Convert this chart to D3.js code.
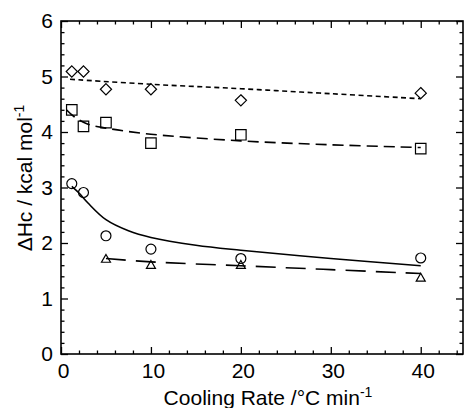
<!DOCTYPE html>
<html>
<head>
<meta charset="utf-8">
<script src="https://cdn.jsdelivr.net/npm/d3@7"></script>
<style>
  body { margin: 0; background: #fff; }
  svg { display: block; font-family: "Liberation Sans", Arial, sans-serif; }
</style>
</head>
<body>
<svg id="chart" width="464" height="408"></svg>
<script>
// measured points (cooling rate in °C/min, ΔHc in kcal/mol)
const rates = [1.2, 2.5, 5, 10, 20, 40];
const diamondVals = [5.09, 5.09, 4.77, 4.77, 4.57, 4.70];
const squareVals = [4.40, 4.10, 4.17, 3.80, 3.95, 3.70];
const circleVals = [3.07, 2.91, 2.13, 1.89, 1.72, 1.73];
const triRates = [5, 10, 20, 40];
const triVals = [1.70, 1.59, 1.59, 1.36];

// fitted curves
const diamondFitX = [1, 10, 20, 30, 40];
const diamondFitY = [4.95, 4.86, 4.78, 4.69, 4.60];
const squareFitX = [0.6, 1.5, 3, 5, 10, 20, 30, 40];
const squareFitY = [4.40, 4.27, 4.14, 4.07, 3.96, 3.84, 3.77, 3.72];
const circleFitX = [1.2, 2, 3, 5, 7.5, 10, 15, 20, 30, 40];
const circleFitY = [3.02, 2.90, 2.72, 2.42, 2.22, 2.10, 1.96, 1.87, 1.72, 1.59];
const triFitX = [5, 10, 20, 30, 40];
const triFitY = [1.72, 1.66, 1.59, 1.52, 1.45];

const xMajor = [0, 10, 20, 30, 40];
const yMajor = [0, 1, 2, 3, 4, 5, 6];

const svg = d3.select("#chart");
const plotLeft = 61, plotRight = 463, plotTop = 21, plotBottom = 354;

const x = d3.scaleLinear().domain([0, 44.7]).range([plotLeft, plotRight]);
const y = d3.scaleLinear().domain([0, 6]).range([plotBottom, plotTop]);

const xMinor = d3.range(0, 45, 2).filter(v => v % 10 !== 0);
const yMinor = d3.range(0, 6.01, 0.2).map(v => +v.toFixed(1)).filter(v => Math.abs(v - Math.round(v)) > 0.01);

function styleAxis(g) {
    g.select(".domain").remove();
    g.selectAll("line").attr("stroke", "#000").attr("stroke-width", 1.3);
    g.selectAll("text").attr("font-size", 21).attr("fill", "#000");
}

// major + minor ticks on all four sides, pointing inward
svg.append("g").attr("transform", `translate(0,${plotBottom})`)
    .call(d3.axisBottom(x).tickValues(xMajor).tickSize(-7).tickPadding(9).tickFormat(d3.format("d")))
    .call(styleAxis)
    .selectAll("text").attr("dx", 2);
svg.append("g").attr("transform", `translate(0,${plotBottom})`)
    .call(d3.axisBottom(x).tickValues(xMinor).tickSize(-3.5).tickFormat(""))
    .call(styleAxis);
svg.append("g").attr("transform", `translate(0,${plotTop})`)
    .call(d3.axisTop(x).tickValues(xMajor).tickSize(-7).tickFormat(""))
    .call(styleAxis);
svg.append("g").attr("transform", `translate(0,${plotTop})`)
    .call(d3.axisTop(x).tickValues(xMinor).tickSize(-3.5).tickFormat(""))
    .call(styleAxis);

svg.append("g").attr("transform", `translate(${plotLeft},0)`)
    .call(d3.axisLeft(y).tickValues(yMajor).tickSize(-7).tickPadding(8).tickFormat(d3.format("d")))
    .call(styleAxis);
svg.append("g").attr("transform", `translate(${plotLeft},0)`)
    .call(d3.axisLeft(y).tickValues(yMinor).tickSize(-3.5).tickFormat(""))
    .call(styleAxis);
svg.append("g").attr("transform", `translate(${plotRight},0)`)
    .call(d3.axisRight(y).tickValues(yMajor).tickSize(-7).tickFormat(""))
    .call(styleAxis);
svg.append("g").attr("transform", `translate(${plotRight},0)`)
    .call(d3.axisRight(y).tickValues(yMinor).tickSize(-3.5).tickFormat(""))
    .call(styleAxis);

// frame
svg.append("rect")
    .attr("x", plotLeft).attr("y", plotTop)
    .attr("width", plotRight - plotLeft).attr("height", plotBottom - plotTop)
    .attr("fill", "none").attr("stroke", "#000").attr("stroke-width", 1.6);

// fit lines
const line = d3.line().x(d => x(d[0])).y(d => y(d[1])).curve(d3.curveCatmullRom.alpha(0.5));
const fits = [
    { xs: diamondFitX, ys: diamondFitY, dash: "5,3.5" },
    { xs: squareFitX, ys: squareFitY, dash: "11,6" },
    { xs: circleFitX, ys: circleFitY, dash: null },
    { xs: triFitX, ys: triFitY, dash: "20,10" }
];
fits.forEach(f => {
    svg.append("path")
        .datum(f.xs.map((v, i) => [v, f.ys[i]]))
        .attr("d", line)
        .attr("fill", "none")
        .attr("stroke", "#000")
        .attr("stroke-width", 1.6)
        .attr("stroke-dasharray", f.dash);
});

// markers
const markers = [
    { xs: rates, ys: diamondVals, type: d3.symbolDiamond2, size: 80 },
    { xs: rates, ys: squareVals, type: d3.symbolSquare2, size: 140 },
    { xs: rates, ys: circleVals, type: d3.symbolCircle, size: 78 },
    { xs: triRates, ys: triVals, type: d3.symbolTriangle2, size: 58 }
];
markers.forEach(m => {
    svg.append("g").selectAll("path")
        .data(m.xs.map((v, i) => [v, m.ys[i]]))
        .join("path")
        .attr("transform", d => `translate(${x(d[0])},${y(d[1])})`)
        .attr("d", d3.symbol().type(m.type).size(m.size))
        .attr("fill", "none")
        .attr("stroke", "#000")
        .attr("stroke-width", 1.2);
});

// axis titles
const xt = svg.append("text")
    .attr("x", 268).attr("y", 405)
    .attr("text-anchor", "middle")
    .attr("font-size", 21);
xt.append("tspan").text("Cooling Rate /°C min");
xt.append("tspan").attr("dy", -8).attr("font-size", 14).text("-1");

const yt = svg.append("text")
    .attr("transform", "translate(32,178) rotate(-90)")
    .attr("text-anchor", "middle")
    .attr("font-size", 21);
yt.append("tspan").text("ΔHc / kcal mol");
yt.append("tspan").attr("dy", -8).attr("font-size", 14).text("-1");
</script>
</body>
</html>
